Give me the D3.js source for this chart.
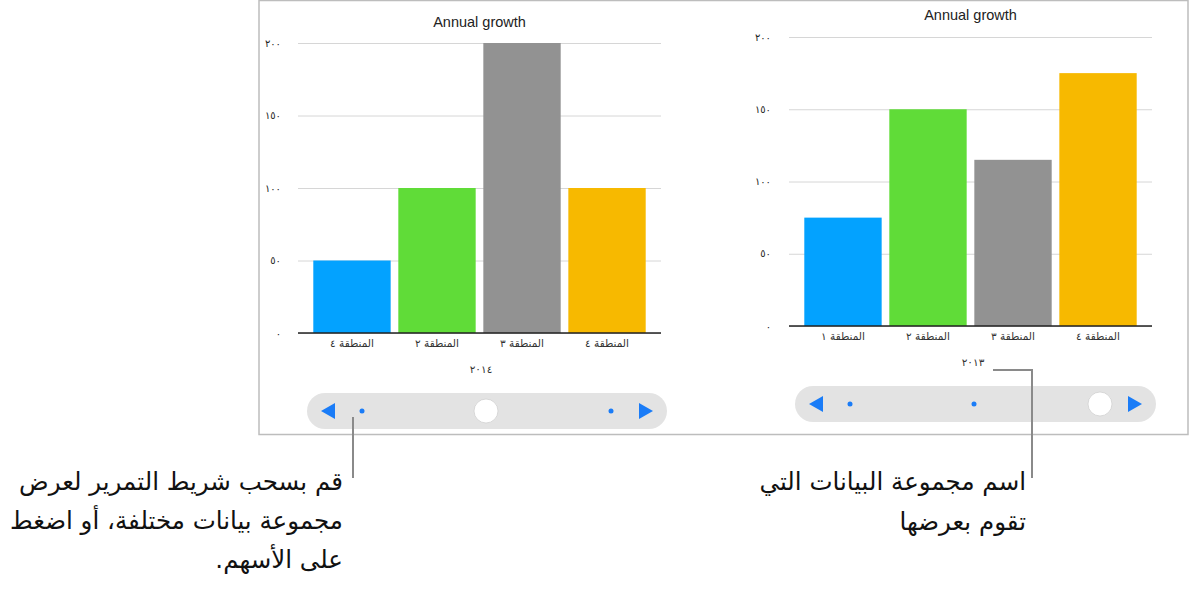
<!DOCTYPE html>
<html><head><meta charset="utf-8">
<script src="https://cdn.jsdelivr.net/npm/d3@7"></script>
<style>
html,body{margin:0;padding:0;background:#fff;}
svg{display:block;}
</style></head>
<body>
<svg id="c" width="1189" height="593"></svg>
<script>
const titleText = "Annual growth";
const yTickValues = [0, 50, 100, 150, 200];
const yTickLabels = ["٠", "٥٠", "١٠٠", "١٥٠", "٢٠٠"];
const categories2014 = ["المنطقة ٤", "المنطقة ٢", "المنطقة ٣", "المنطقة ٤"];
const values2014 = [50, 100, 200, 100];
const categories2013 = ["المنطقة ١", "المنطقة ٢", "المنطقة ٣", "المنطقة ٤"];
const values2013 = [75, 150, 115, 175];
const barColors = ["#03a2ff", "#60dc38", "#929292", "#f7b900"];
const leftCallout = ["قم بسحب شريط التمرير لعرض", "مجموعة بيانات مختلفة، أو اضغط", "على الأسهم."];
const rightCallout = ["اسم مجموعة البيانات التي", "تقوم بعرضها"];

const svg = d3.select("#c");
const labelFont = "'Liberation Sans', Arial, 'DejaVu Sans', sans-serif";

// frame
svg.append("rect").attr("x", 259).attr("y", 0.5).attr("width", 929).attr("height", 434)
  .attr("fill", "#fff").attr("stroke", "#bdbdbd").attr("stroke-width", 1.5);

function drawChart(cfg) {
  const g = svg.append("g");
  const x = d3.scaleBand().domain(d3.range(cfg.cats.length)).range([cfg.x0, cfg.x1])
    .paddingInner(0.09).paddingOuter(0.18);
  const y = d3.scaleLinear().domain([0, 200]).range([cfg.yBase, cfg.yTop]);

  g.append("text").attr("x", (cfg.x0 + cfg.x1) / 2).attr("y", cfg.titleY)
    .attr("text-anchor", "middle").attr("font-family", labelFont).attr("font-size", 14.5)
    .attr("fill", "#222").text(titleText);

  // grid
  const grid = g.append("g").attr("transform", `translate(${cfg.x0},0)`)
    .call(d3.axisLeft(y).tickValues(yTickValues).tickSize(-(cfg.x1 - cfg.x0)).tickFormat(""));
  grid.select(".domain").remove();
  grid.selectAll(".tick line").attr("stroke", "#d6d6d6");

  // y labels
  const ya = g.append("g").attr("transform", `translate(${cfg.labelX},0)`)
    .call(d3.axisLeft(y).tickValues(yTickValues).tickSize(0).tickPadding(0)
      .tickFormat((d, i) => yTickLabels[i]));
  ya.select(".domain").remove();
  ya.selectAll("text").attr("font-family", "'DejaVu Sans', sans-serif").attr("font-size", 10).attr("fill", "#222");

  // bars
  g.selectAll("rect.bar").data(cfg.vals).enter().append("rect")
    .attr("x", (d, i) => x(i)).attr("width", x.bandwidth())
    .attr("y", d => y(d)).attr("height", d => y(0) - y(d))
    .attr("fill", (d, i) => barColors[i]);

  // baseline
  g.append("line").attr("x1", cfg.x0).attr("x2", cfg.x1).attr("y1", y(0)).attr("y2", y(0))
    .attr("stroke", "#222").attr("stroke-width", 1.5);

  // x labels
  const xa = g.append("g").attr("transform", `translate(0,${y(0)})`)
    .call(d3.axisBottom(x).tickSize(0).tickPadding(7).tickFormat(i => cfg.cats[i]));
  xa.select(".domain").remove();
  xa.selectAll("text").attr("font-family", "'DejaVu Sans', sans-serif").attr("font-size", 10.5).attr("fill", "#333");

  g.append("text").attr("x", cfg.yearX).attr("y", y(0) + 40).attr("text-anchor", "middle")
    .attr("font-family", "'DejaVu Sans', sans-serif").attr("font-size", 10.5).attr("fill", "#333").text(cfg.year);

  // slider
  const s = cfg.slider;
  const sg = g.append("g");
  sg.append("rect").attr("x", s.x).attr("y", s.y).attr("width", s.w).attr("height", 36)
    .attr("rx", 18).attr("fill", "#e3e3e3");
  const cy = s.y + 18;
  sg.append("path").attr("d", `M${s.x + 14},${cy} L${s.x + 28},${cy - 8} L${s.x + 28},${cy + 8} Z`).attr("fill", "#1a7cf7");
  sg.append("path").attr("d", `M${s.x + s.w - 14},${cy} L${s.x + s.w - 28},${cy - 8} L${s.x + s.w - 28},${cy + 8} Z`).attr("fill", "#1a7cf7");
  s.dots.forEach(dx => sg.append("circle").attr("cx", dx).attr("cy", cy).attr("r", 2.5).attr("fill", "#1a7cf7"));
  sg.append("circle").attr("cx", s.knob).attr("cy", cy).attr("r", 12).attr("fill", "#fff")
    .attr("stroke", "#d0d0d0").attr("stroke-width", 0.8);
}

drawChart({cats: categories2014, vals: values2014, x0: 298, x1: 661, yTop: 43, yBase: 333,
  titleY: 27, labelX: 281, year: "٢٠١٤", yearX: 481,
  slider: {x: 307, y: 393, w: 360, dots: [362, 611], knob: 486}});
drawChart({cats: categories2013, vals: values2013, x0: 789, x1: 1152, yTop: 37, yBase: 326,
  titleY: 20, labelX: 771, year: "٢٠١٣", yearX: 973,
  slider: {x: 795, y: 386, w: 361, dots: [850, 974], knob: 1100}});

// callouts
svg.append("line").attr("x1", 353).attr("x2", 353).attr("y1", 417).attr("y2", 478)
  .attr("stroke", "#8a8a8a").attr("stroke-width", 2);
svg.append("path").attr("d", "M993,370 H1032 V478").attr("fill", "none")
  .attr("stroke", "#8a8a8a").attr("stroke-width", 2);

const ct = svg.append("g").attr("font-family", "'DejaVu Sans', sans-serif").attr("font-size", 24.5).attr("fill", "#111");
leftCallout.forEach((t, i) => ct.append("text").attr("x", 343).attr("y", 490 + i * 39)
  .attr("direction", "rtl").attr("text-anchor", "start").text(t));
rightCallout.forEach((t, i) => ct.append("text").attr("x", 1026).attr("y", 490 + i * 40)
  .attr("direction", "rtl").attr("text-anchor", "start").text(t));
</script>
</body></html>
